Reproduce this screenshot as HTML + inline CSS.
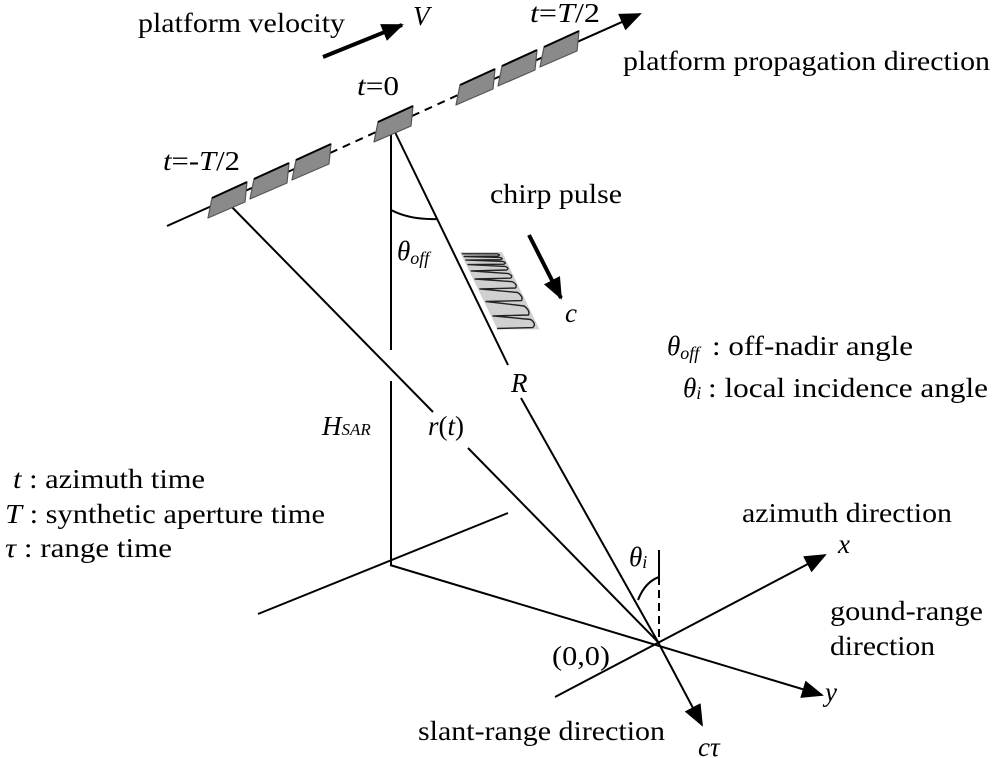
<!DOCTYPE html>
<html><head><meta charset="utf-8"><style>
html,body{margin:0;padding:0;background:#fff}
svg{display:block}
text{font-family:"Liberation Serif",serif;font-size:27px;fill:#000}
.i{font-style:italic}
</style></head><body>
<svg width="1000" height="758" viewBox="0 0 1000 758" xmlns="http://www.w3.org/2000/svg">
<defs>
<marker id="ahb" markerWidth="22" markerHeight="18" refX="20" refY="9" orient="auto" markerUnits="userSpaceOnUse" viewBox="0 0 22 18">
<path d="M0,0 L22,9 L0,18 Z" fill="#000"/></marker>
<g id="sat"><path d="M-16,-2 L19,-18 L17,2 L-20,18 Z" fill="#8a8a8a" stroke="#555" stroke-width="1.2" stroke-linejoin="round"/>
<path d="M-16,-2 L19,-18" stroke="#000" stroke-width="2"/></g>
</defs>
<g stroke="#000" stroke-width="2" fill="none">
<line x1="167" y1="226" x2="330" y2="153"/>
<line x1="330" y1="153" x2="376" y2="132" stroke-dasharray="8,6"/>
<line x1="412" y1="116" x2="458" y2="95" stroke-dasharray="8,6"/>
<line x1="458" y1="95" x2="640" y2="14" marker-end="url(#ahb)"/>
<line x1="323" y1="57" x2="402" y2="25" stroke-width="4" marker-end="url(#ahb)"/>
<line x1="391" y1="128" x2="391" y2="350"/>
<line x1="391" y1="381" x2="391" y2="565"/>
<line x1="227" y1="202" x2="433" y2="412"/>
<line x1="468" y1="448" x2="658" y2="642"/>
<line x1="393" y1="128" x2="508" y2="365"/>
<line x1="521" y1="398" x2="658" y2="642"/>
<line x1="658" y1="642" x2="702" y2="725" marker-end="url(#ahb)"/>
<path d="M391,210 Q410,220 438,219"/>
<line x1="258" y1="614" x2="508" y2="513"/>
<line x1="390" y1="565" x2="822" y2="695" marker-end="url(#ahb)"/>
<line x1="555" y1="697" x2="825" y2="555" marker-end="url(#ahb)"/>
<line x1="659" y1="550" x2="659" y2="577"/>
<line x1="659" y1="577" x2="659" y2="642" stroke-dasharray="8,5"/>
<path d="M638,600 Q645,582 659,577"/>
<line x1="529" y1="235" x2="561" y2="298" stroke-width="4" marker-end="url(#ahb)"/>
</g>
<use href="#sat" x="228" y="200"/>
<use href="#sat" x="270" y="181"/>
<use href="#sat" x="312" y="162"/>
<use href="#sat" x="394" y="124"/>
<use href="#sat" x="476" y="87"/>
<use href="#sat" x="518" y="68"/>
<use href="#sat" x="560" y="49"/>
<!-- chirp pulse: x along R line, y horizontal (negative = right) -->
<g transform="matrix(0.436,0.9,-1,0,460,252)">
<path d="M0,0 L0,-42 L86,-42 L86,0 Z" fill="#d0d0d0"/>
<path d="M2,-1 L2,-36 Q3,-40 4.5,-36 L5,-2 L6,-37 Q7,-41 8.5,-37 L9,-2 L10.5,-38 Q12,-42 13.5,-38 L14,-2 L16,-38 Q18,-42 20,-38 L21,-2 L24,-38 Q26.5,-42 29,-38 L30,-2 L33,-38 Q36.5,-42 40,-38 L41,-2 L45,-38 Q49.5,-42 54,-38 L55,-2 L60,-38 Q65,-42 70,-38 L71,-2 L75,-38 Q80,-42 84,-36 L85,0" fill="none" stroke="#222" stroke-width="1.4" vector-effect="non-scaling-stroke" stroke-linejoin="round"/>
</g>
<text x="138" y="32" textLength="207" lengthAdjust="spacingAndGlyphs">platform velocity</text>
<text x="413" y="25" class="i">V</text>
<text x="530" y="22" textLength="70" lengthAdjust="spacingAndGlyphs"><tspan class="i">t</tspan>=<tspan class="i">T</tspan>/2</text>
<text x="623" y="70" textLength="367" lengthAdjust="spacingAndGlyphs">platform propagation direction</text>
<text x="357" y="95" textLength="42" lengthAdjust="spacingAndGlyphs"><tspan class="i">t</tspan>=0</text>
<text x="163" y="170" textLength="77" lengthAdjust="spacingAndGlyphs"><tspan class="i">t</tspan>=-<tspan class="i">T</tspan>/2</text>
<text x="490" y="203" textLength="132" lengthAdjust="spacingAndGlyphs">chirp pulse</text>
<text x="397" y="260" class="i">θ<tspan font-size="18" dy="4">off</tspan></text>
<text x="565" y="322" class="i">c</text>
<text x="667" y="355" class="i">θ<tspan font-size="18" dy="4">off</tspan></text>
<text x="712" y="355" textLength="201" lengthAdjust="spacingAndGlyphs">: off-nadir angle</text>
<text x="683" y="397" class="i">θ<tspan font-size="18" dy="2">i</tspan></text>
<text x="708" y="397" textLength="280" lengthAdjust="spacingAndGlyphs">: local incidence angle</text>
<text x="511" y="392" class="i">R</text>
<text x="322" y="435" class="i">H<tspan font-size="17">SAR</tspan></text>
<text x="428" y="435"><tspan class="i">r</tspan>(<tspan class="i">t</tspan>)</text>
<text x="13" y="488" textLength="192" lengthAdjust="spacingAndGlyphs"><tspan class="i">t</tspan> : azimuth time</text>
<text x="5" y="523" textLength="320" lengthAdjust="spacingAndGlyphs"><tspan class="i">T</tspan> : synthetic aperture time</text>
<text x="5" y="557" textLength="167" lengthAdjust="spacingAndGlyphs"><tspan class="i">τ</tspan> : range time</text>
<text x="742" y="522" textLength="210" lengthAdjust="spacingAndGlyphs">azimuth direction</text>
<text x="838" y="553" class="i">x</text>
<text x="629" y="566" class="i">θ<tspan font-size="18" dy="2">i</tspan></text>
<text x="830" y="620" textLength="153" lengthAdjust="spacingAndGlyphs">gound-range</text>
<text x="830" y="655" textLength="105" lengthAdjust="spacingAndGlyphs">direction</text>
<text x="552" y="665" textLength="58" lengthAdjust="spacingAndGlyphs">(0,0)</text>
<text x="825" y="701" class="i">y</text>
<text x="418" y="740" textLength="247" lengthAdjust="spacingAndGlyphs">slant-range direction</text>
<text x="698" y="756" class="i">cτ</text>
</svg>
</body></html>
